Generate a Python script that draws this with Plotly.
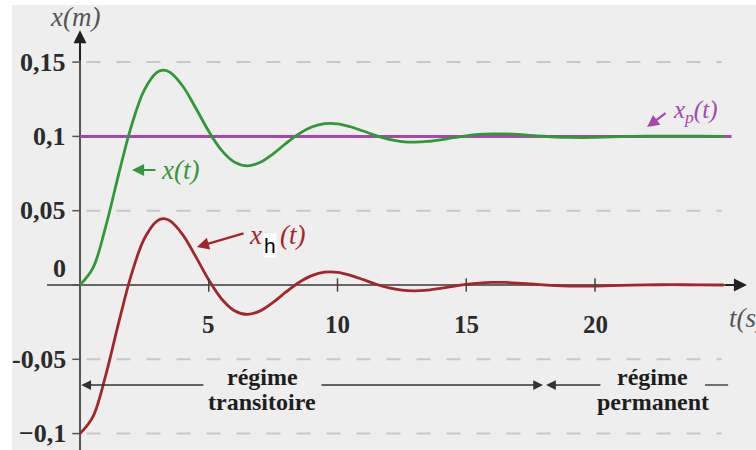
import plotly.graph_objects as go

# Time samples (s)
t = [0, 0.5, 1, 1.5, 2, 2.5, 3, 3.25, 3.5, 4, 4.5, 5, 5.5, 6, 6.5, 7, 7.5, 8, 8.5, 9,
     9.5, 10, 10.5, 11, 11.5, 12, 12.5, 13, 13.5, 14, 14.5, 15, 15.5, 16, 16.5, 17,
     17.5, 18, 18.5, 19, 19.5, 20, 21, 22, 23, 24, 25]

# Total response x(t) (m)
x_total = [0.0, 0.0113, 0.0394, 0.0745, 0.1073, 0.1313, 0.1432, 0.1446, 0.1431, 0.1336,
           0.1189, 0.1034, 0.0906, 0.0827, 0.0802, 0.0826, 0.0883, 0.0953, 0.1017, 0.1063,
           0.1086, 0.1085, 0.1065, 0.1036, 0.1005, 0.0980, 0.0965, 0.0961, 0.0966, 0.0977,
           0.0991, 0.1004, 0.1013, 0.1017, 0.1017, 0.1013, 0.1007, 0.1001, 0.0996, 0.0993,
           0.0992, 0.0993, 0.0998, 0.1001, 0.1002, 0.1001, 0.1000]

# Transient (homogeneous) part x_h(t) (m)
x_h = [-0.1, -0.0887, -0.0606, -0.0255, 0.0073, 0.0313, 0.0432, 0.0446, 0.0431, 0.0336,
       0.0189, 0.0034, -0.0094, -0.0173, -0.0198, -0.0174, -0.0117, -0.0047, 0.0017, 0.0063,
       0.0086, 0.0085, 0.0065, 0.0036, 0.0005, -0.0020, -0.0035, -0.0039, -0.0034, -0.0023,
       -0.0009, 0.0004, 0.0013, 0.0017, 0.0017, 0.0013, 0.0007, 0.0001, -0.0004, -0.0007,
       -0.0008, -0.0007, -0.0002, 0.0001, 0.0002, 0.0001, 0.0]

# Steady-state (particular) part x_p(t) (m)
t_p = [0, 25.3]
x_p = [0.1, 0.1]

y_ticks = [0.15, 0.1, 0.05, 0, -0.05, -0.1]
y_tick_text = ["0,15", "0,1", "0,05", "0", "-0,05", "\u22120,1"]
x_ticks = [5, 10, 15, 20]
x_tick_text = ["5", "10", "15", "20"]
grid_levels = [0.15, 0.05, -0.05, -0.1]

X_RANGE = [-3.107, 26.252]
Y_RANGE = [-0.11104, 0.19179]

GREEN = "#2f9a35"
RED = "#a3262a"
PURPLE = "#a845b0"
AXIS = "#666666"
TEXT = "#2b2b2b"
SERIF = "Liberation Serif"

fig = go.Figure()

fig.add_trace(go.Scatter(x=t_p, y=x_p, mode="lines",
                         line=dict(color=PURPLE, width=3), hoverinfo="skip"))
fig.add_trace(go.Scatter(x=t, y=x_total, mode="lines",
                         line=dict(color=GREEN, width=2.8, shape="spline"), hoverinfo="skip"))
fig.add_trace(go.Scatter(x=t, y=x_h, mode="lines",
                         line=dict(color=RED, width=2.8, shape="spline"), hoverinfo="skip"))

shapes = []
# light grey backdrop
shapes.append(dict(type="rect", xref="paper", yref="paper", x0=12 / 756, x1=1, y0=0,
                   y1=1 - 5 / 450, fillcolor="#eeeeee", line=dict(width=0), layer="below"))
# dashed reference levels
for g in grid_levels:
    shapes.append(dict(type="line", x0=0.25, x1=24.93, y0=g, y1=g, layer="below",
                       line=dict(color="#c8c8c8", width=2, dash="14px,16px")))
# x axis line
shapes.append(dict(type="line", x0=-1.28, x1=25.3, y0=0, y1=0, layer="below",
                   line=dict(color=AXIS, width=2)))
# y axis line
shapes.append(dict(type="line", x0=0, x1=0, y0=Y_RANGE[0], y1=0.162, layer="below",
                   line=dict(color="#555555", width=2)))
# y tick marks
for v in y_ticks:
    shapes.append(dict(type="line", x0=-0.3, x1=0, y0=v, y1=v,
                       line=dict(color="#555555", width=1.5)))
# x tick marks
for v in x_ticks:
    shapes.append(dict(type="line", x0=v, x1=v, y0=-0.0045, y1=0.0045,
                       line=dict(color="#444444", width=1.5)))
# regime separator line
shapes.append(dict(type="line", x0=24.27, x1=25.17, y0=-0.0673, y1=-0.0673,
                   line=dict(color="#444444", width=1.5)))

ann = []


def arrow(x_head, y_head, x_tail, y_tail, color, size=1.2, width=1.5):
    ann.append(dict(x=x_head, y=y_head, ax=x_tail, ay=y_tail, xref="x", yref="y",
                    axref="x", ayref="y", showarrow=True, arrowhead=2, arrowsize=size,
                    arrowwidth=width, arrowcolor=color, text=""))


def label(x, y, text, size=24, color=TEXT, xanchor="center", bold=True, italic=False,
          family=SERIF, bg=None):
    if bold:
        text = "<b>" + text + "</b>"
    if italic:
        text = "<i>" + text + "</i>"
    d = dict(x=x, y=y, xref="x", yref="y", text=text, showarrow=False,
             xanchor=xanchor, yanchor="middle",
             font=dict(family=family, size=size, color=color))
    if bg:
        d["bgcolor"] = bg
        d["borderpad"] = 0
    ann.append(d)


# axes arrows
arrow(25.9, 0, 25.0, 0, "#222222", size=1.3, width=2)
arrow(0, 0.1715, 0, 0.150, "#222222", size=1.3, width=2)

# tick labels
for v, s in zip(y_ticks, y_tick_text):
    yy = 0.0114 if v == 0 else v
    label(-0.45, yy, s, size=26, xanchor="right")
for v, s in zip(x_ticks, x_tick_text):
    label(v, -0.0269, s, size=25)

# axis titles
label(-0.2, 0.1805, "x(m)", size=27, color="#555555", bold=False, italic=True)
label(25.13, -0.0222, "t(s)", size=27, color="#555555", bold=False, italic=True,
      xanchor="left")

# curve labels
arrow(2.02, 0.0774, 2.99, 0.0774, GREEN, size=1.1, width=2.2)
label(3.05, 0.0774, "x(t)", size=27, color=GREEN, xanchor="left", bold=False, italic=True)

arrow(4.54, 0.0256, 6.41, 0.035, RED, size=1.1, width=2.2)
label(6.5, 0.0335, "x", size=27, color=RED, xanchor="left", bold=False, italic=True)
label(7.38, 0.0263, "h", size=21, color="#000000", bold=False,
      family="Liberation Sans", bg="#ffffff")
label(7.68, 0.0335, "(t)", size=27, color=RED, xanchor="left", bold=False, italic=True)

arrow(22.02, 0.1063, 22.8, 0.1164, PURPLE, size=1.1, width=2.2)
label(22.95, 0.1165, "x<sub>p</sub>(t)", size=25, color=PURPLE, xanchor="left",
      bold=False, italic=True)

# regime indications
arrow(0.05, -0.0673, 4.85, -0.0673, "#333333", size=1.3, width=1.5)
arrow(17.98, -0.0673, 9.32, -0.0673, "#333333", size=1.3, width=1.5)
arrow(18.1, -0.0673, 20.27, -0.0673, "#333333", size=1.3, width=1.5)
label(7.07, -0.0619, "régime", size=24, color="#1e1e1e")
label(7.07, -0.0787, "transitoire", size=24, color="#1e1e1e")
label(22.25, -0.0619, "régime", size=24, color="#1e1e1e")
label(22.25, -0.0787, "permanent", size=24, color="#1e1e1e")

fig.update_layout(
    width=756, height=450, autosize=False,
    margin=dict(l=0, r=0, t=0, b=0),
    paper_bgcolor="#ffffff", plot_bgcolor="rgba(0,0,0,0)",
    showlegend=False,
    xaxis=dict(range=X_RANGE, visible=False, fixedrange=True),
    yaxis=dict(range=Y_RANGE, visible=False, fixedrange=True),
    shapes=shapes, annotations=ann,
)

fig.write_html("out.html")
